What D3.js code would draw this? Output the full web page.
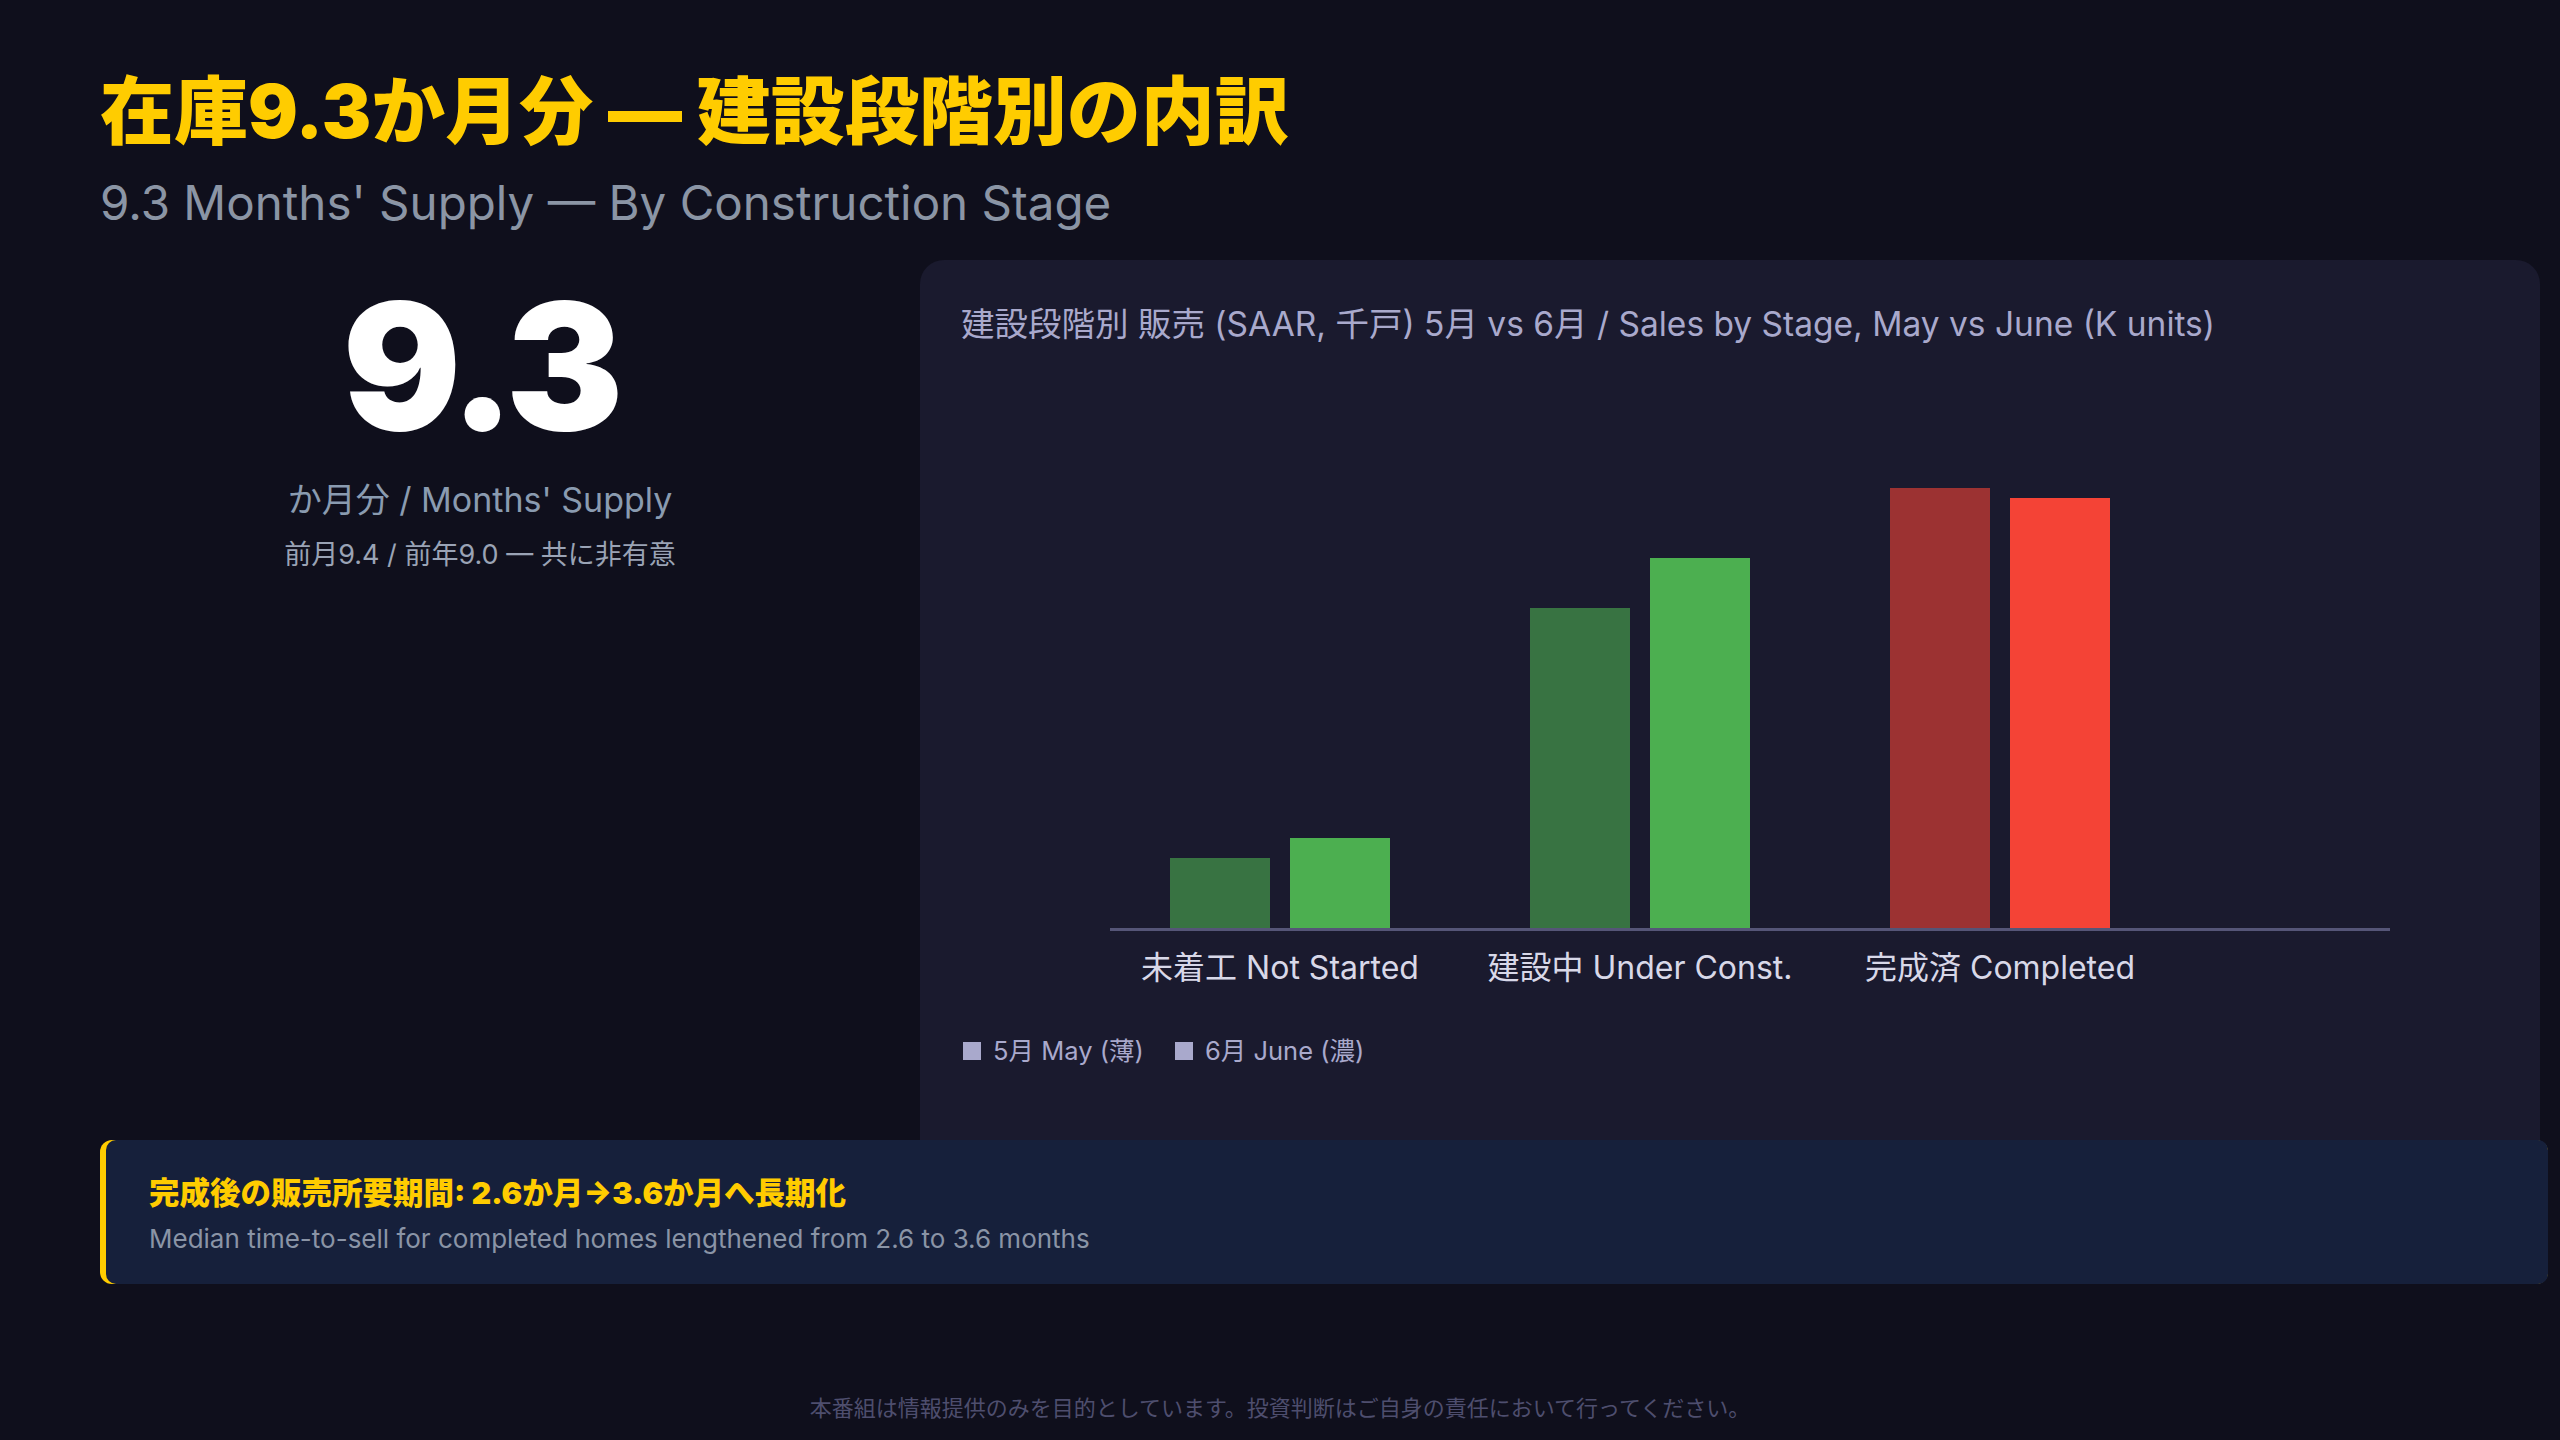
<!DOCTYPE html>
<html>
<head>
<meta charset="utf-8">
<script src="https://cdn.jsdelivr.net/npm/d3@7"></script>
<style>
    body { margin: 0; background: #0f0f1c; }
    svg { display: block; }
    text { font-family: Inter, "Noto Sans CJK JP", sans-serif; }
</style>
</head>
<body>
<svg id="slide" width="2560" height="1440"></svg>
<script>
const stages = ["未着工 Not Started", "建設中 Under Const.", "完成済 Completed"]
const months = ["may", "june"]
const maySales = [14, 64, 88]
const juneSales = [18, 74, 86]
const stageColors = ["#4caf50", "#4caf50", "#f44336"]
const legendLabels = ["5月 May (薄)", "6月 June (濃)"]

class StageChart {
    constructor(){
        this.svg = d3.select("#slide")
        this.data = stages.map((s, i) => ({
            stage: s,
            color: stageColors[i],
            values: [{month: "may", v: maySales[i]}, {month: "june", v: juneSales[i]}]
        }))
        this.drawHeader()
        this.drawCard()
        this.drawBars()
        this.drawCallout()
    }

    drawHeader(){
        this.svg.append("text")
            .attr("x", 100).attr("y", 138)
            .attr("font-size", 74).attr("font-weight", 900)
            .attr("fill", "#ffcc00")
            .text("在庫9.3か月分 — 建設段階別の内訳")

        this.svg.append("text")
            .attr("x", 100).attr("y", 220)
            .attr("font-size", 47.5)
            .attr("fill", "#8b95a5")
            .text("9.3 Months' Supply — By Construction Stage")

        let left = this.svg.append("g").attr("text-anchor", "middle")
        left.append("text")
            .attr("x", 480).attr("y", 430)
            .attr("font-size", 176).attr("font-weight", 900)
            .attr("letter-spacing", -6)
            .attr("fill", "#ffffff")
            .text("9.3")
        left.append("text")
            .attr("x", 480).attr("y", 512)
            .attr("font-size", 34)
            .attr("fill", "#8a9bb0")
            .text("か月分 / Months' Supply")
        left.append("text")
            .attr("x", 480).attr("y", 564)
            .attr("font-size", 27)
            .attr("fill", "#9aa3b5")
            .text("前月9.4 / 前年9.0 — 共に非有意")
    }

    drawCard(){
        this.svg.append("rect")
            .attr("x", 920).attr("y", 260)
            .attr("width", 1620).attr("height", 920)
            .attr("rx", 24)
            .attr("fill", "#1a1a2e")

        this.svg.append("text")
            .attr("x", 961).attr("y", 336)
            .attr("font-size", 33.5)
            .attr("fill", "#a9a9cc")
            .text("建設段階別 販売 (SAAR, 千戸) 5月 vs 6月 / Sales by Stage, May vs June (K units)")
    }

    drawBars(){
        let x = d3.scaleBand()
            .domain(stages)
            .range([1100, 2180])

        let xInner = d3.scaleBand()
            .domain(months)
            .range([70, 290])
            .paddingInner(1 / 6)

        let y = d3.scaleLinear()
            .domain([0, 100])
            .range([928, 428])

        let groups = this.svg.append("g")
            .selectAll("g")
            .data(this.data)
            .join("g")
            .attr("transform", d => `translate(${x(d.stage)},0)`)

        groups.selectAll("rect")
            .data(d => d.values.map(v => ({...v, color: d.color})))
            .join("rect")
            .attr("x", d => xInner(d.month))
            .attr("width", xInner.bandwidth())
            .attr("y", d => y(d.v))
            .attr("height", d => y(0) - y(d.v))
            .attr("fill", d => d.color)
            .attr("fill-opacity", d => d.month === "may" ? 0.6 : 1)

        // baseline runs past the last group, as in the original
        this.svg.append("line")
            .attr("x1", 1110).attr("x2", 2390)
            .attr("y1", y(0) + 1.5).attr("y2", y(0) + 1.5)
            .attr("stroke", "#555577")
            .attr("stroke-width", 3)

        let axis = this.svg.append("g")
            .attr("transform", `translate(0,${y(0)})`)
            .call(d3.axisBottom(x).tickSize(0).tickPadding(28))
        axis.select(".domain").remove()
        axis.selectAll("text")
            .attr("font-size", 32)
            .attr("font-family", "Inter, 'Noto Sans CJK JP', sans-serif")
            .attr("fill", "#d8d8e8")

        let legend = this.svg.append("g")
            .selectAll("g")
            .data(legendLabels)
            .join("g")
            .attr("transform", (d, i) => `translate(${963 + i * 212},1042)`)
        legend.append("rect")
            .attr("width", 18).attr("height", 18)
            .attr("fill", "#a9a9cc")
        legend.append("text")
            .attr("x", 30).attr("y", 18)
            .attr("font-size", 25.5)
            .attr("fill", "#a9a9cc")
            .text(d => d)
    }

    drawCallout(){
        this.svg.append("rect")
            .attr("x", 100).attr("y", 1140)
            .attr("width", 2448).attr("height", 144)
            .attr("rx", 12)
            .attr("fill", "#ffcc00")
        this.svg.append("rect")
            .attr("x", 106).attr("y", 1140)
            .attr("width", 2442).attr("height", 144)
            .attr("rx", 10)
            .attr("fill", "#16203b")

        this.svg.append("text")
            .attr("x", 149).attr("y", 1204)
            .attr("font-size", 30.5).attr("font-weight", 900)
            .attr("fill", "#ffcc00")
            .text("完成後の販売所要期間: 2.6か月→3.6か月へ長期化")
        this.svg.append("text")
            .attr("x", 149).attr("y", 1248)
            .attr("font-size", 26)
            .attr("fill", "#8a94a6")
            .text("Median time-to-sell for completed homes lengthened from 2.6 to 3.6 months")

        this.svg.append("text")
            .attr("x", 1280).attr("y", 1416)
            .attr("text-anchor", "middle")
            .attr("font-size", 22)
            .attr("fill", "#4e4e6e")
            .text("本番組は情報提供のみを目的としています。投資判断はご自身の責任において行ってください。")
    }
}

new StageChart()
</script>
</body>
</html>
